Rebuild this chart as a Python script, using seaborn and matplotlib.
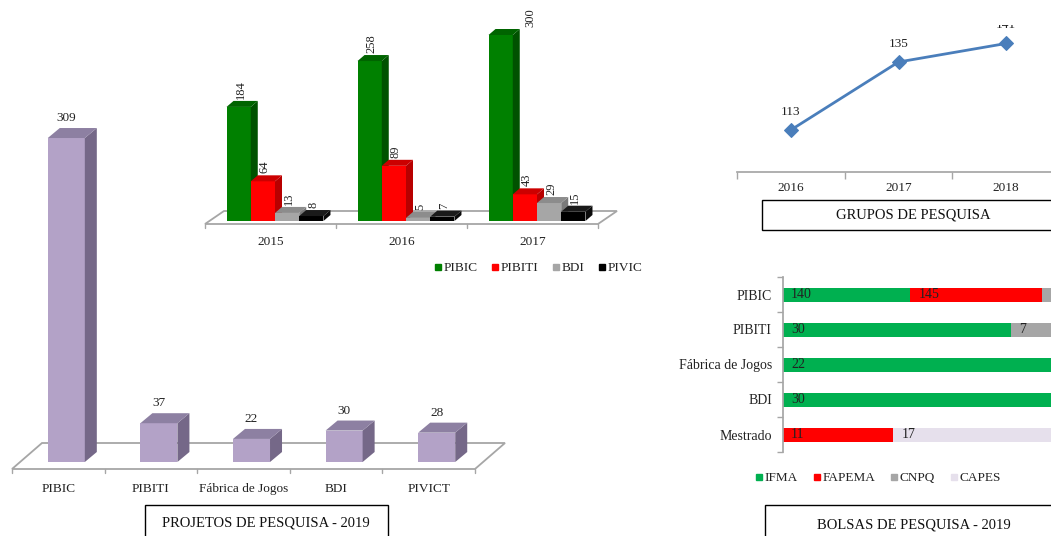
import numpy as np
import pandas as pd
import matplotlib
matplotlib.use("Agg")
import matplotlib.pyplot as plt
import matplotlib.transforms as mtransforms
from matplotlib.patches import Polygon, Rectangle
from matplotlib.lines import Line2D
import seaborn as sns

# ---------------- data ----------------
# Projetos de pesquisa 2019
proj_cat = ["PIBIC", "PIBITI", "Fábrica de Jogos", "BDI", "PIVICT"]
proj_val = [309, 37, 22, 30, 28]

# Evolução por programa 2015-2017
evo_years = ["2015", "2016", "2017"]
evo_programs = ["PIBIC", "PIBITI", "BDI", "PIVIC"]
evo_pibic = [184, 258, 300]
evo_pibiti = [64, 89, 43]
evo_bdi = [13, 5, 29]
evo_pivic = [8, 7, 15]

# Grupos de pesquisa
grp_years = ["2016", "2017", "2018"]
grp_val = [113, 135, 141]

# Bolsas de pesquisa 2019 (por fonte financiadora)
bolsa_cat = ["PIBIC", "PIBITI", "Fábrica de Jogos", "BDI", "Mestrado"]
bolsa_src = ["IFMA", "FAPEMA", "CNPQ", "CAPES"]
bolsa_ifma = [140, 30, 22, 30, 0]
bolsa_fapema = [145, 0, 0, 0, 11]
bolsa_cnpq = [24, 7, 0, 0, 0]
bolsa_capes = [0, 0, 0, 0, 17]

# ---------------- figure ----------------
W, H = 1051, 536
sns.set_theme(style="white")
plt.rcParams["font.family"] = ["Liberation Serif", "DejaVu Serif"]
plt.rcParams["text.color"] = "#222222"
plt.rcParams["axes.labelcolor"] = "#222222"
plt.rcParams["xtick.color"] = "#222222"
plt.rcParams["ytick.color"] = "#222222"

fig = plt.figure(figsize=(W / 100, H / 100), dpi=100)
# pixel coordinates with origin at top-left
PX = mtransforms.Affine2D().scale(1, -1).translate(0, H)


def axes_px(left, top, right, bottom):
    ax = fig.add_axes([left / W, 1 - bottom / H, (right - left) / W, (bottom - top) / H])
    ax.set_facecolor("none")
    return ax


def to_px(ax, x, y):
    d = ax.transData.transform((x, y))
    return d[0], H - d[1]


def extrude(ax, patch, dx, dy, side_c, top_c, z):
    """Add the side and top faces of a pseudo-3D bar (dx, dy in pixels)."""
    x0, y0 = patch.get_x(), patch.get_y()
    w, h = patch.get_width(), patch.get_height()
    X0, Yb = to_px(ax, x0, y0)
    X1, Yt = to_px(ax, x0 + w, y0 + h)
    side = [(X1, Yb), (X1 + dx, Yb - dy), (X1 + dx, Yt - dy), (X1, Yt)]
    top = [(X0, Yt), (X1, Yt), (X1 + dx, Yt - dy), (X0 + dx, Yt - dy)]
    patch.set_zorder(z)
    ax.add_patch(Polygon(side, closed=True, fc=side_c, ec="none",
                         transform=PX, clip_on=False, zorder=z + 0.005))
    ax.add_patch(Polygon(top, closed=True, fc=top_c, ec="none",
                         transform=PX, clip_on=False, zorder=z + 0.005))


def floor(ax, drop, dx, dy, color="#A6A6A6"):
    """Grey floor parallelogram under a pseudo-3D bar chart, with category ticks."""
    x0, x1 = ax.get_xlim()
    L, Y0 = to_px(ax, x0, 0)
    R, _ = to_px(ax, x1, 0)
    Yf = Y0 + drop
    pts = [(L, Yf), (R, Yf), (R + dx, Yf - dy), (L + dx, Yf - dy)]
    ax.add_patch(Polygon(pts, closed=True, fc="white", ec=color, lw=1.3,
                         transform=PX, clip_on=False, zorder=0.5))
    for b in np.arange(x0, x1 + 0.01, 1.0):
        bx, _ = to_px(ax, b, 0)
        ax.add_line(Line2D([bx, bx], [Yf, Yf + 4], color=color, lw=1,
                           transform=PX, clip_on=False))


def box_title(x0, y0, x1, y1, text, tx, ty):
    fig.add_artist(Rectangle((x0, y0), x1 - x0, y1 - y0, fc="white", ec="black",
                             lw=1.0, transform=PX))
    fig.text(tx / W, 1 - ty / H, text, ha="center", va="center", fontsize=10.5,
             color="#111111")


def clean(ax):
    for s in ax.spines.values():
        s.set_visible(False)
    ax.grid(False)
    ax.set_xlabel("")
    ax.set_ylabel("")


# ---------------- Projetos de pesquisa 2019 ----------------
axA = axes_px(12, 116, 475, 462)
sns.barplot(x=proj_cat, y=proj_val, order=proj_cat, color="#B3A2C7",
            saturation=1, width=0.40, ax=axA)
axA.set_xlim(-0.5, 4.5)
axA.set_ylim(0, 330)
clean(axA)
axA.set_yticks([])
axA.tick_params(axis="x", length=0, pad=15, labelsize=9.5)
catw = 463 / 5.0
for p in axA.patches:
    p.set_x(p.get_x() + 8 / catw)
    p.set_edgecolor("none")
floor(axA, 7, 30, 26)
for i, (p, v) in enumerate(zip(list(axA.patches[:5]), proj_val)):
    extrude(axA, p, 12, 10, "#756888", "#8D80A2", 2 + i * 0.01)
    axA.annotate(str(v), (p.get_x() + p.get_width() / 2, v), xytext=(0, 20),
                 textcoords="offset pixels", ha="center", va="center",
                 fontsize=9.5, annotation_clip=False)

# ---------------- Evolução 2015-2017 ----------------
axB = axes_px(205, 23, 598, 221)
df_b = pd.DataFrame({
    "ano": evo_years * 4,
    "programa": sum([[prog] * 3 for prog in evo_programs], []),
    "qtd": evo_pibic + evo_pibiti + evo_bdi + evo_pivic,
})
front_b = {"PIBIC": "#008000", "PIBITI": "#FF0000", "BDI": "#A6A6A6", "PIVIC": "#000000"}
side_b = {"PIBIC": "#005200", "PIBITI": "#B80000", "BDI": "#7A7A7A", "PIVIC": "#0A0A0A"}
top_b = {"PIBIC": "#006400", "PIBITI": "#CC0000", "BDI": "#8C8C8C", "PIVIC": "#1A1A1A"}
sns.barplot(data=df_b, x="ano", y="qtd", hue="programa", order=evo_years,
            hue_order=evo_programs, palette=front_b, saturation=1, width=0.74,
            legend=False, errorbar=None, ax=axB)
axB.set_xlim(-0.5, 2.5)
axB.set_ylim(0, 198 / 0.62)
clean(axB)
axB.set_yticks([])
axB.tick_params(axis="x", length=0, pad=11, labelsize=9.5)
catb = 393 / 3.0
floor(axB, 3, 19, 13)
for k, (cont, prog) in enumerate(zip(axB.containers, evo_programs)):
    for j, p in enumerate(cont.patches):
        p.set_x(p.get_x() + 4.5 / catb)
        p.set_edgecolor("none")
for k, (cont, prog) in enumerate(zip(axB.containers, evo_programs)):
    for j, p in enumerate(cont.patches):
        v = p.get_height()
        extrude(axB, p, 7, 6, side_b[prog], top_b[prog], 2 + j * 0.1 + k * 0.01)
        cx = p.get_x() + p.get_width() / 2
        _, ytop = to_px(axB, cx, v)
        dx = 2
        if ytop - 8 - 20 < 23:
            dx = 30
        axB.annotate(f"{v:.0f}", (cx, v), xytext=(dx, 8), textcoords="offset pixels",
                     rotation=90, ha="center", va="bottom", fontsize=9,
                     annotation_clip=False, zorder=5)
hb = [Line2D([0], [0], marker="s", ls="none", markersize=5, color=front_b[p])
      for p in evo_programs]
axB.legend(hb, evo_programs, loc="center", bbox_to_anchor=(538 / W, 1 - 268 / H),
           bbox_transform=fig.transFigure, ncol=4, frameon=False, fontsize=9.5,
           handlelength=0.6, handletextpad=0.15, columnspacing=1.0)

# ---------------- Grupos de pesquisa ----------------
axC = axes_px(737, 25, 1060, 172)
sns.lineplot(x=grp_years, y=grp_val, marker="D", markersize=7, color="#4A7EBB",
             markeredgecolor="#4A7EBB", linewidth=2, ax=axC)
axC.set_xlim(-0.5, 2.5)
axC.set_ylim(113 - 42 / 3.09, 135 + 37 / 3.09)
clean(axC)
axC.spines["bottom"].set_visible(True)
axC.spines["bottom"].set_color("#A6A6A6")
axC.set_yticks([])
axC.set_xticks(range(3))
axC.set_xticklabels(grp_years)
axC.set_xticks(np.arange(-0.5, 3, 1.0), minor=True)
axC.tick_params(axis="x", which="major", length=0, pad=7, labelsize=9.5)
axC.tick_params(axis="x", which="minor", bottom=True, length=5, color="#A6A6A6")
for i, v in enumerate(grp_val):
    axC.annotate(str(v), (i, v), xytext=(0, 18), textcoords="offset pixels",
                 ha="center", va="center", fontsize=9.5, clip_on=True)
box_title(762, 200, 1064, 230, "GRUPOS DE PESQUISA", 913, 215)

# ---------------- Bolsas de pesquisa 2019 ----------------
axD = axes_px(783, 277, 1064, 452)
vals = np.array([bolsa_ifma, bolsa_fapema, bolsa_cnpq, bolsa_capes], dtype=float)
pct = vals / vals.sum(axis=0) * 100
cum = np.cumsum(pct, axis=0)
col_d = {"IFMA": "#00B050", "FAPEMA": "#FF0000", "CNPQ": "#A6A6A6", "CAPES": "#E6E0EC"}
for k in range(len(bolsa_src) - 1, -1, -1):
    sns.barplot(x=cum[k], y=bolsa_cat, order=bolsa_cat, orient="h",
                color=col_d[bolsa_src[k]], saturation=1, width=0.4, ax=axD)
for p in axD.patches:
    p.set_edgecolor("none")
axD.set_xlim(0, 100)
axD.set_ylim(4.5, -0.5)
clean(axD)
axD.spines["left"].set_visible(True)
axD.spines["left"].set_color("#A6A6A6")
axD.set_xticks([])
axD.set_yticks(np.arange(-0.5, 5, 1.0), minor=True)
axD.tick_params(axis="y", which="major", length=0, pad=8, labelsize=10)
axD.tick_params(axis="y", which="minor", left=True, length=4, color="#A6A6A6")
for i in range(len(bolsa_cat)):
    for k in range(len(bolsa_src)):
        v = vals[k, i]
        if v > 0:
            left = cum[k, i] - pct[k, i]
            axD.annotate(f"{v:.0f}", (left, i), xytext=(8, 0), textcoords="offset pixels",
                         ha="left", va="center", fontsize=10, color="#222222",
                         annotation_clip=False)
hd = [Line2D([0], [0], marker="s", ls="none", markersize=5, color=col_d[s])
      for s in bolsa_src]
axD.legend(hd, bolsa_src, loc="center", bbox_to_anchor=(878 / W, 1 - 478 / H),
           bbox_transform=fig.transFigure, ncol=4, frameon=False, fontsize=9.5,
           handlelength=0.6, handletextpad=0.15, columnspacing=1.1)
box_title(765, 505, 1063, 545, "BOLSAS DE PESQUISA - 2019", 914, 525)

box_title(145, 505, 388, 545, "PROJETOS DE PESQUISA - 2019", 266, 523)

fig.savefig("out.png", dpi=100, facecolor="white")
